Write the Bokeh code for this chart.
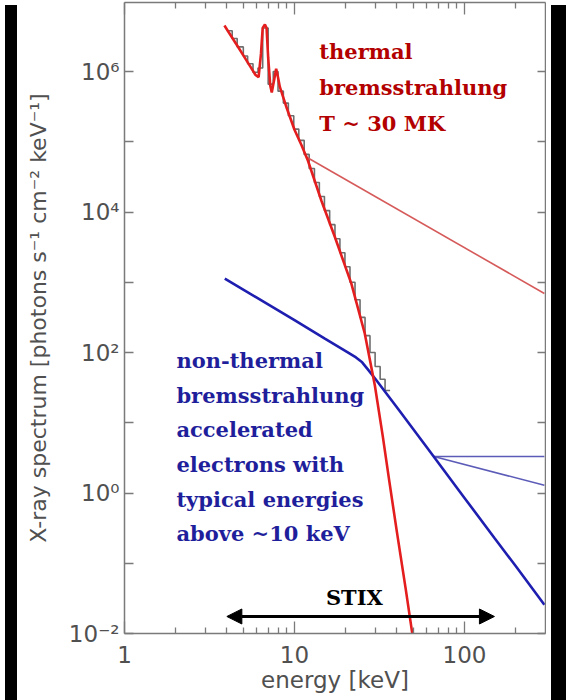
from bokeh.plotting import figure
from bokeh.models import Range1d, FixedTicker, LogAxis, Arrow, NormalHead, Label, Div
from bokeh.layouts import row
from bokeh.embed import file_html
from bokeh.resources import INLINE

# ---------------- data ----------------
# thermal bremsstrahlung model (red), energy in keV, log10 of flux
thermal_energy = [3.87, 4.2, 4.6, 5.0, 5.5, 5.9, 6.15, 6.35, 6.5, 6.7, 6.85, 7.0, 7.2, 7.35,
                  7.55, 7.8, 7.95, 8.2, 9.0, 10.0, 11.0, 12.0, 14.4, 17.3, 21.6, 25.9,
                  29.7, 33.0, 36.0, 40.0, 45.0, 50.0]
thermal_log_flux = [6.655, 6.52, 6.37, 6.23, 6.07, 5.95, 5.92, 6.25, 6.62, 6.67, 6.62, 6.2, 5.80, 5.70,
                    5.85, 6.04, 5.95, 5.78, 5.48, 5.17, 4.95, 4.73, 4.16, 3.64, 2.98, 2.27,
                    1.53, 0.82, 0.19, -0.55, -1.35, -2.10]

# observed count spectrum (grey histogram): bin edges and log10 flux per bin
hist_edges = [4.0, 4.3, 4.6, 5.0, 5.3, 5.7, 6.1, 6.5, 7.0, 7.5, 8.0, 8.6, 9.2, 9.9, 10.6,
              11.4, 12.2, 13.1, 14.0, 15.0, 16.1, 17.3, 18.5, 19.8, 21.2, 22.7, 24.3,
              26.0, 27.8, 29.8, 31.9, 34.1, 36.5]
hist_log_flux = [6.58, 6.47, 6.35, 6.22, 6.11, 5.99, 6.05, 6.62, 5.82, 6.00, 5.72, 5.55, 5.37,
                 5.18, 5.02, 4.82, 4.62, 4.42, 4.22, 4.02, 3.82, 3.62, 3.42, 3.22, 3.00,
                 2.75, 2.50, 2.24, 2.00, 1.80, 1.62, 1.46]

# non-thermal bremsstrahlung model (blue)
nonthermal_energy = [3.89, 6.0, 10.0, 15.0, 20.0, 23.0, 25.0, 27.0, 30.0, 40.0, 60.0,
                     100.0, 150.0, 200.0, 295.0]
nonthermal_log_flux = [3.05, 2.78, 2.46, 2.20, 2.02, 1.93, 1.86, 1.76, 1.62, 1.22, 0.65,
                       -0.07, -0.64, -1.04, -1.59]

# thin pointer lines
red_pointer_energy = [11.8, 295.0]
red_pointer_log_flux = [4.78, 2.84]
blue_pointer1_energy = [66.0, 295.0]
blue_pointer1_log_flux = [0.52, 0.52]
blue_pointer2_energy = [66.0, 295.0]
blue_pointer2_log_flux = [0.52, 0.11]

# STIX energy range (keV)
stix_range = [4.0, 150.0]

# axes
x_major_ticks = [1, 10, 100]
x_minor_ticks = [2, 3, 4, 5, 6, 7, 8, 9, 20, 30, 40, 50, 60, 70, 80, 90, 200, 300]
x_tick_labels = {1: "1", 10: "10", 100: "100"}
y_major_ticks = [1e-2, 1e0, 1e2, 1e4, 1e6]
y_minor_ticks = [1e-1, 1e1, 1e3, 1e5, 1e7]
y_tick_labels = {1e-2: "10\u207b\u00b2", 1e0: "10\u2070", 1e2: "10\u00b2",
                 1e4: "10\u2074", 1e6: "10\u2076"}

# ---------------- figure ----------------
W, H = 524, 700
BL, BR, BT, BB = 102, 1, 2, 67
px_per_decade_x = 170.0
px_per_decade_y = 70.25
x_end = 10 ** ((W - BL - BR) / px_per_decade_x)
y_end = 10 ** ((H - BT - BB) / px_per_decade_y - 2)

p = figure(width=W, height=H, x_axis_type="log", y_axis_type="log",
           x_range=Range1d(1, x_end), y_range=Range1d(1e-2, y_end),
           output_backend="svg", toolbar_location=None,
           min_border_left=BL, min_border_right=BR, min_border_top=BT, min_border_bottom=BB)
p.outline_line_color = None
p.background_fill_color = "white"
p.border_fill_color = "white"
p.xgrid.visible = False
p.ygrid.visible = False

AX = "#7a7a7a"
LAB = "#505050"


def base_axis(ax):
    ax.axis_line_color = AX
    ax.axis_line_width = 1.5
    ax.major_tick_line_color = AX
    ax.major_tick_line_width = 1.3
    ax.minor_tick_line_color = AX
    ax.minor_tick_line_width = 1.3
    ax.major_tick_out = 0
    ax.minor_tick_out = 0


xb = p.xaxis[0]
base_axis(xb)
xb.ticker = FixedTicker(ticks=x_major_ticks, minor_ticks=x_minor_ticks)
xb.major_label_overrides = x_tick_labels
xb.major_tick_in = 12
xb.minor_tick_in = 6
xb.major_label_text_font = "DejaVu Sans"
xb.major_label_text_font_size = "23px"
xb.major_label_text_color = LAB
xb.major_label_standoff = 12
xb.axis_label = "energy [keV]"
xb.axis_label_text_font = "DejaVu Sans"
xb.axis_label_text_font_size = "23px"
xb.axis_label_text_font_style = "normal"
xb.axis_label_text_color = LAB
xb.axis_label_standoff = 1

yl = p.yaxis[0]
base_axis(yl)
yl.ticker = FixedTicker(ticks=y_major_ticks, minor_ticks=y_minor_ticks)
yl.major_label_overrides = y_tick_labels
yl.major_tick_in = 9
yl.minor_tick_in = 9
yl.major_label_text_font = "DejaVu Sans"
yl.major_label_text_font_size = "23px"
yl.major_label_text_color = LAB
yl.major_label_standoff = 5
yl.axis_label = "X-ray spectrum [photons s\u207b\u00b9 cm\u207b\u00b2 keV\u207b\u00b9]"
yl.axis_label_text_font = "DejaVu Sans"
yl.axis_label_text_font_size = "22px"
yl.axis_label_text_font_style = "normal"
yl.axis_label_text_color = LAB
yl.axis_label_standoff = 15

xt = LogAxis(ticker=FixedTicker(ticks=x_major_ticks, minor_ticks=x_minor_ticks))
base_axis(xt)
xt.major_tick_in = 12
xt.minor_tick_in = 6
xt.major_label_text_font_size = "1px"
xt.major_label_text_alpha = 0
xt.major_label_standoff = 0
p.add_layout(xt, "above")

yr = LogAxis(ticker=FixedTicker(ticks=y_major_ticks, minor_ticks=y_minor_ticks))
base_axis(yr)
yr.major_tick_in = 8
yr.minor_tick_in = 8
yr.major_label_text_font_size = "1px"
yr.major_label_text_alpha = 0
yr.major_label_standoff = 0
p.add_layout(yr, "right")

# ---------------- glyphs ----------------
hist_x = hist_edges
hist_y = [10 ** v for v in hist_log_flux] + [10 ** hist_log_flux[-1]]
p.step(hist_x, hist_y, mode="after", line_color="#6e6e6e", line_width=1.6)

p.line(red_pointer_energy, [10 ** v for v in red_pointer_log_flux],
       line_color="#d65a5a", line_width=1.6)
p.line(blue_pointer1_energy, [10 ** v for v in blue_pointer1_log_flux],
       line_color="#5c5cb8", line_width=1.6)
p.line(blue_pointer2_energy, [10 ** v for v in blue_pointer2_log_flux],
       line_color="#5c5cb8", line_width=1.6)

p.line(nonthermal_energy, [10 ** v for v in nonthermal_log_flux],
       line_color="#1e1eb0", line_width=2.6)
p.line(thermal_energy, [10 ** v for v in thermal_log_flux],
       line_color="#e41e1e", line_width=2.6)

# STIX arrow
stix_flux = 10 ** -1.758
p.add_layout(Arrow(x_start=stix_range[0], y_start=stix_flux, x_end=stix_range[1], y_end=stix_flux,
                   line_color="black", line_width=3,
                   start=NormalHead(size=15, fill_color="black", line_color="black"),
                   end=NormalHead(size=15, fill_color="black", line_color="black")))

# ---------------- text annotations ----------------
RED_TXT = "#b30000"
BLUE_TXT = "#1f1f9c"
texts = [
    ("thermal", 14.0, 6.285, RED_TXT),
    ("bremsstrahlung", 14.0, 5.773, RED_TXT),
    ("T ~ 30 MK", 14.0, 5.260, RED_TXT),
    ("non-thermal", 2.02, 1.887, BLUE_TXT),
    ("bremsstrahlung", 2.02, 1.392, BLUE_TXT),
    ("accelerated", 2.02, 0.904, BLUE_TXT),
    ("electrons with", 2.02, 0.406, BLUE_TXT),
    ("typical energies", 2.02, -0.092, BLUE_TXT),
    ("above ~10 keV", 2.02, -0.576, BLUE_TXT),
]
for t, xe, ly, c in texts:
    p.add_layout(Label(x=xe, y=10 ** ly, text=t, text_font="DejaVu Serif", text_font_style="bold",
                       text_font_size="21px", text_color=c, text_align="left",
                       text_baseline="alphabetic"))

p.add_layout(Label(x=22.5, y=10 ** -1.487, text="STIX", text_font="DejaVu Serif",
                   text_font_style="bold", text_font_size="21px", text_color="black",
                   text_align="center", text_baseline="middle"))

left_strip = Div(width=12, height=H, styles={"background-color": "black"})
right_strip = Div(width=22, height=H, styles={"background-color": "black"})
layout = row(left_strip, p, right_strip, spacing=0)

open("out.html", "w").write(file_html(layout, INLINE))
